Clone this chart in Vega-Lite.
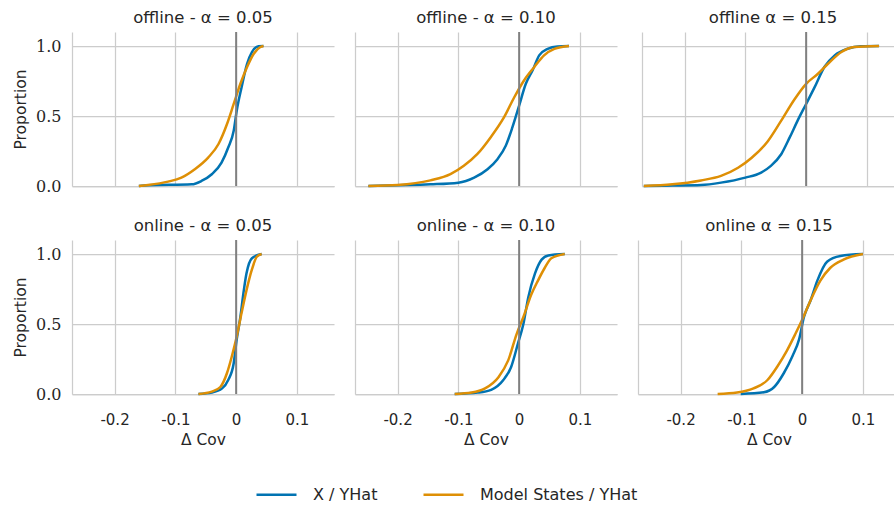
{
  "$schema": "https://vega.github.io/schema/vega-lite/v6.json",
  "padding": {"left": 13, "top": 9, "right": 0, "bottom": 4},
  "background": "white",
  "datasets": {
    "ecdf": [
      {"panel":"off05","series":"X / YHat","dcov":-0.16,"prop":0},
      {"panel":"off05","series":"X / YHat","dcov":-0.145,"prop":0.005},
      {"panel":"off05","series":"X / YHat","dcov":-0.073,"prop":0.012},
      {"panel":"off05","series":"X / YHat","dcov":-0.057,"prop":0.036},
      {"panel":"off05","series":"X / YHat","dcov":-0.04,"prop":0.084},
      {"panel":"off05","series":"X / YHat","dcov":-0.024,"prop":0.167},
      {"panel":"off05","series":"X / YHat","dcov":-0.013,"prop":0.275},
      {"panel":"off05","series":"X / YHat","dcov":-0.004,"prop":0.395},
      {"panel":"off05","series":"X / YHat","dcov":0.001,"prop":0.538},
      {"panel":"off05","series":"X / YHat","dcov":0.009,"prop":0.706},
      {"panel":"off05","series":"X / YHat","dcov":0.018,"prop":0.873},
      {"panel":"off05","series":"X / YHat","dcov":0.026,"prop":0.957},
      {"panel":"off05","series":"X / YHat","dcov":0.037,"prop":0.998},
      {"panel":"off05","series":"X / YHat","dcov":0.045,"prop":1.0},
      {"panel":"off05","series":"Model States / YHat","dcov":-0.16,"prop":0},
      {"panel":"off05","series":"Model States / YHat","dcov":-0.145,"prop":0.007},
      {"panel":"off05","series":"Model States / YHat","dcov":-0.112,"prop":0.031},
      {"panel":"off05","series":"Model States / YHat","dcov":-0.09,"prop":0.06},
      {"panel":"off05","series":"Model States / YHat","dcov":-0.068,"prop":0.12},
      {"panel":"off05","series":"Model States / YHat","dcov":-0.046,"prop":0.203},
      {"panel":"off05","series":"Model States / YHat","dcov":-0.029,"prop":0.3},
      {"panel":"off05","series":"Model States / YHat","dcov":-0.015,"prop":0.443},
      {"panel":"off05","series":"Model States / YHat","dcov":-0.004,"prop":0.586},
      {"panel":"off05","series":"Model States / YHat","dcov":0.007,"prop":0.73},
      {"panel":"off05","series":"Model States / YHat","dcov":0.018,"prop":0.85},
      {"panel":"off05","series":"Model States / YHat","dcov":0.029,"prop":0.945},
      {"panel":"off05","series":"Model States / YHat","dcov":0.04,"prop":0.993},
      {"panel":"off05","series":"Model States / YHat","dcov":0.045,"prop":1.0},

      {"panel":"off10","series":"X / YHat","dcov":-0.248,"prop":0},
      {"panel":"off10","series":"X / YHat","dcov":-0.2,"prop":0.005},
      {"panel":"off10","series":"X / YHat","dcov":-0.146,"prop":0.012},
      {"panel":"off10","series":"X / YHat","dcov":-0.1,"prop":0.024},
      {"panel":"off10","series":"X / YHat","dcov":-0.074,"prop":0.06},
      {"panel":"off10","series":"X / YHat","dcov":-0.052,"prop":0.12},
      {"panel":"off10","series":"X / YHat","dcov":-0.036,"prop":0.19},
      {"panel":"off10","series":"X / YHat","dcov":-0.022,"prop":0.287},
      {"panel":"off10","series":"X / YHat","dcov":-0.011,"prop":0.42},
      {"panel":"off10","series":"X / YHat","dcov":0,"prop":0.574},
      {"panel":"off10","series":"X / YHat","dcov":0.011,"prop":0.73},
      {"panel":"off10","series":"X / YHat","dcov":0.022,"prop":0.825},
      {"panel":"off10","series":"X / YHat","dcov":0.033,"prop":0.933},
      {"panel":"off10","series":"X / YHat","dcov":0.047,"prop":0.98},
      {"panel":"off10","series":"X / YHat","dcov":0.063,"prop":0.997},
      {"panel":"off10","series":"X / YHat","dcov":0.082,"prop":1.0},
      {"panel":"off10","series":"Model States / YHat","dcov":-0.248,"prop":0},
      {"panel":"off10","series":"Model States / YHat","dcov":-0.2,"prop":0.007},
      {"panel":"off10","series":"Model States / YHat","dcov":-0.146,"prop":0.04},
      {"panel":"off10","series":"Model States / YHat","dcov":-0.113,"prop":0.084},
      {"panel":"off10","series":"Model States / YHat","dcov":-0.091,"prop":0.144},
      {"panel":"off10","series":"Model States / YHat","dcov":-0.069,"prop":0.227},
      {"panel":"off10","series":"Model States / YHat","dcov":-0.047,"prop":0.347},
      {"panel":"off10","series":"Model States / YHat","dcov":-0.025,"prop":0.49},
      {"panel":"off10","series":"Model States / YHat","dcov":-0.008,"prop":0.634},
      {"panel":"off10","series":"Model States / YHat","dcov":0.008,"prop":0.754},
      {"panel":"off10","series":"Model States / YHat","dcov":0.025,"prop":0.85},
      {"panel":"off10","series":"Model States / YHat","dcov":0.041,"prop":0.933},
      {"panel":"off10","series":"Model States / YHat","dcov":0.058,"prop":0.98},
      {"panel":"off10","series":"Model States / YHat","dcov":0.082,"prop":1.0},

      {"panel":"off15","series":"X / YHat","dcov":-0.267,"prop":0},
      {"panel":"off15","series":"X / YHat","dcov":-0.22,"prop":0.003},
      {"panel":"off15","series":"X / YHat","dcov":-0.173,"prop":0.007},
      {"panel":"off15","series":"X / YHat","dcov":-0.14,"prop":0.024},
      {"panel":"off15","series":"X / YHat","dcov":-0.1,"prop":0.06},
      {"panel":"off15","series":"X / YHat","dcov":-0.074,"prop":0.096},
      {"panel":"off15","series":"X / YHat","dcov":-0.058,"prop":0.144},
      {"panel":"off15","series":"X / YHat","dcov":-0.041,"prop":0.227},
      {"panel":"off15","series":"X / YHat","dcov":-0.027,"prop":0.347},
      {"panel":"off15","series":"X / YHat","dcov":-0.014,"prop":0.467},
      {"panel":"off15","series":"X / YHat","dcov":0,"prop":0.586},
      {"panel":"off15","series":"X / YHat","dcov":0.014,"prop":0.706},
      {"panel":"off15","series":"X / YHat","dcov":0.03,"prop":0.85},
      {"panel":"off15","series":"X / YHat","dcov":0.047,"prop":0.933},
      {"panel":"off15","series":"X / YHat","dcov":0.068,"prop":0.98},
      {"panel":"off15","series":"X / YHat","dcov":0.09,"prop":0.998},
      {"panel":"off15","series":"X / YHat","dcov":0.12,"prop":1.0},
      {"panel":"off15","series":"Model States / YHat","dcov":-0.267,"prop":0},
      {"panel":"off15","series":"Model States / YHat","dcov":-0.22,"prop":0.012},
      {"panel":"off15","series":"Model States / YHat","dcov":-0.173,"prop":0.04},
      {"panel":"off15","series":"Model States / YHat","dcov":-0.14,"prop":0.072},
      {"panel":"off15","series":"Model States / YHat","dcov":-0.112,"prop":0.13},
      {"panel":"off15","series":"Model States / YHat","dcov":-0.09,"prop":0.2},
      {"panel":"off15","series":"Model States / YHat","dcov":-0.063,"prop":0.32},
      {"panel":"off15","series":"Model States / YHat","dcov":-0.041,"prop":0.467},
      {"panel":"off15","series":"Model States / YHat","dcov":-0.019,"prop":0.62},
      {"panel":"off15","series":"Model States / YHat","dcov":0,"prop":0.73},
      {"panel":"off15","series":"Model States / YHat","dcov":0.019,"prop":0.8},
      {"panel":"off15","series":"Model States / YHat","dcov":0.036,"prop":0.873},
      {"panel":"off15","series":"Model States / YHat","dcov":0.058,"prop":0.957},
      {"panel":"off15","series":"Model States / YHat","dcov":0.079,"prop":0.993},
      {"panel":"off15","series":"Model States / YHat","dcov":0.12,"prop":1.0},

      {"panel":"on05","series":"X / YHat","dcov":-0.062,"prop":0},
      {"panel":"on05","series":"X / YHat","dcov":-0.04,"prop":0.01},
      {"panel":"on05","series":"X / YHat","dcov":-0.023,"prop":0.04},
      {"panel":"on05","series":"X / YHat","dcov":-0.013,"prop":0.1},
      {"panel":"on05","series":"X / YHat","dcov":-0.004,"prop":0.22},
      {"panel":"on05","series":"X / YHat","dcov":0.001,"prop":0.39},
      {"panel":"on05","series":"X / YHat","dcov":0.007,"prop":0.55},
      {"panel":"on05","series":"X / YHat","dcov":0.012,"prop":0.72},
      {"panel":"on05","series":"X / YHat","dcov":0.017,"prop":0.86},
      {"panel":"on05","series":"X / YHat","dcov":0.026,"prop":0.97},
      {"panel":"on05","series":"X / YHat","dcov":0.042,"prop":1.0},
      {"panel":"on05","series":"Model States / YHat","dcov":-0.062,"prop":0},
      {"panel":"on05","series":"Model States / YHat","dcov":-0.04,"prop":0.017},
      {"panel":"on05","series":"Model States / YHat","dcov":-0.026,"prop":0.05},
      {"panel":"on05","series":"Model States / YHat","dcov":-0.015,"prop":0.15},
      {"panel":"on05","series":"Model States / YHat","dcov":-0.007,"prop":0.27},
      {"panel":"on05","series":"Model States / YHat","dcov":0.001,"prop":0.41},
      {"panel":"on05","series":"Model States / YHat","dcov":0.009,"prop":0.58},
      {"panel":"on05","series":"Model States / YHat","dcov":0.017,"prop":0.74},
      {"panel":"on05","series":"Model States / YHat","dcov":0.026,"prop":0.89},
      {"panel":"on05","series":"Model States / YHat","dcov":0.034,"prop":0.98},
      {"panel":"on05","series":"Model States / YHat","dcov":0.042,"prop":1.0},

      {"panel":"on10","series":"X / YHat","dcov":-0.106,"prop":0},
      {"panel":"on10","series":"X / YHat","dcov":-0.068,"prop":0.01},
      {"panel":"on10","series":"X / YHat","dcov":-0.046,"prop":0.03},
      {"panel":"on10","series":"X / YHat","dcov":-0.026,"prop":0.1},
      {"panel":"on10","series":"X / YHat","dcov":-0.013,"prop":0.195},
      {"panel":"on10","series":"X / YHat","dcov":-0.002,"prop":0.36},
      {"panel":"on10","series":"X / YHat","dcov":0.007,"prop":0.5},
      {"panel":"on10","series":"X / YHat","dcov":0.015,"prop":0.69},
      {"panel":"on10","series":"X / YHat","dcov":0.026,"prop":0.86},
      {"panel":"on10","series":"X / YHat","dcov":0.037,"prop":0.96},
      {"panel":"on10","series":"X / YHat","dcov":0.048,"prop":0.99},
      {"panel":"on10","series":"X / YHat","dcov":0.075,"prop":1.0},
      {"panel":"on10","series":"Model States / YHat","dcov":-0.106,"prop":0},
      {"panel":"on10","series":"Model States / YHat","dcov":-0.078,"prop":0.01},
      {"panel":"on10","series":"Model States / YHat","dcov":-0.056,"prop":0.04},
      {"panel":"on10","series":"Model States / YHat","dcov":-0.034,"prop":0.12},
      {"panel":"on10","series":"Model States / YHat","dcov":-0.018,"prop":0.24},
      {"panel":"on10","series":"Model States / YHat","dcov":-0.004,"prop":0.43},
      {"panel":"on10","series":"Model States / YHat","dcov":0.007,"prop":0.55},
      {"panel":"on10","series":"Model States / YHat","dcov":0.02,"prop":0.71},
      {"panel":"on10","series":"Model States / YHat","dcov":0.031,"prop":0.81},
      {"panel":"on10","series":"Model States / YHat","dcov":0.042,"prop":0.9},
      {"panel":"on10","series":"Model States / YHat","dcov":0.053,"prop":0.97},
      {"panel":"on10","series":"Model States / YHat","dcov":0.075,"prop":1.0},

      {"panel":"on15","series":"X / YHat","dcov":-0.101,"prop":0},
      {"panel":"on15","series":"X / YHat","dcov":-0.063,"prop":0.012},
      {"panel":"on15","series":"X / YHat","dcov":-0.046,"prop":0.05},
      {"panel":"on15","series":"X / YHat","dcov":-0.03,"prop":0.15},
      {"panel":"on15","series":"X / YHat","dcov":-0.016,"prop":0.27},
      {"panel":"on15","series":"X / YHat","dcov":-0.005,"prop":0.39},
      {"panel":"on15","series":"X / YHat","dcov":0.003,"prop":0.55},
      {"panel":"on15","series":"X / YHat","dcov":0.014,"prop":0.67},
      {"panel":"on15","series":"X / YHat","dcov":0.025,"prop":0.81},
      {"panel":"on15","series":"X / YHat","dcov":0.041,"prop":0.945},
      {"panel":"on15","series":"X / YHat","dcov":0.063,"prop":0.986},
      {"panel":"on15","series":"X / YHat","dcov":0.1,"prop":1.0},
      {"panel":"on15","series":"Model States / YHat","dcov":-0.139,"prop":0},
      {"panel":"on15","series":"Model States / YHat","dcov":-0.107,"prop":0.01},
      {"panel":"on15","series":"Model States / YHat","dcov":-0.08,"prop":0.04},
      {"panel":"on15","series":"Model States / YHat","dcov":-0.057,"prop":0.1},
      {"panel":"on15","series":"Model States / YHat","dcov":-0.041,"prop":0.195},
      {"panel":"on15","series":"Model States / YHat","dcov":-0.025,"prop":0.31},
      {"panel":"on15","series":"Model States / YHat","dcov":-0.011,"prop":0.43},
      {"panel":"on15","series":"Model States / YHat","dcov":0,"prop":0.53},
      {"panel":"on15","series":"Model States / YHat","dcov":0.014,"prop":0.67},
      {"panel":"on15","series":"Model States / YHat","dcov":0.03,"prop":0.81},
      {"panel":"on15","series":"Model States / YHat","dcov":0.046,"prop":0.9},
      {"panel":"on15","series":"Model States / YHat","dcov":0.068,"prop":0.96},
      {"panel":"on15","series":"Model States / YHat","dcov":0.1,"prop":1.0}
    ]
  },
  "spacing": 23,
  "vconcat": [
    {
      "spacing": 21,
      "hconcat": [
        {
          "width": 262, "height": 154,
          "title": "offline - α = 0.05",
          "layer": [
            {"data": {"name": "ecdf"}, "transform": [{"filter": "datum.panel == 'off05'"}],
             "mark": {"type": "line", "strokeWidth": 2.5, "interpolate": "monotone"},
             "encoding": {
               "x": {"field": "dcov", "type": "quantitative", "scale": {"domain": [-0.27, 0.161], "nice": false, "zero": false}, "axis": {"values": [-0.2, -0.1, 0, 0.1], "labels": false, "title": null}},
               "y": {"field": "prop", "type": "quantitative", "scale": {"domain": [0, 1.1], "nice": false}, "axis": {"values": [0, 0.5, 1], "format": ".1f", "title": "Proportion"}},
               "color": {"field": "series", "type": "nominal", "scale": {"domain": ["X / YHat", "Model States / YHat"], "range": ["#0173b2", "#de8f05"]}, "legend": {"title": null}}
             }},
            {"data": {"values": [{}]}, "mark": {"type": "rule", "color": "#808080", "strokeWidth": 2}, "encoding": {"x": {"datum": 0}}}
          ]
        },
        {
          "width": 262, "height": 154,
          "title": "offline - α = 0.10",
          "layer": [
            {"data": {"name": "ecdf"}, "transform": [{"filter": "datum.panel == 'off10'"}],
             "mark": {"type": "line", "strokeWidth": 2.5, "interpolate": "monotone"},
             "encoding": {
               "x": {"field": "dcov", "type": "quantitative", "scale": {"domain": [-0.27, 0.161], "nice": false, "zero": false}, "axis": {"values": [-0.2, -0.1, 0, 0.1], "labels": false, "title": null}},
               "y": {"field": "prop", "type": "quantitative", "scale": {"domain": [0, 1.1], "nice": false}, "axis": {"values": [0, 0.5, 1], "labels": false, "title": null}},
               "color": {"field": "series", "type": "nominal", "scale": {"domain": ["X / YHat", "Model States / YHat"], "range": ["#0173b2", "#de8f05"]}, "legend": {"title": null}}
             }},
            {"data": {"values": [{}]}, "mark": {"type": "rule", "color": "#808080", "strokeWidth": 2}, "encoding": {"x": {"datum": 0}}}
          ]
        },
        {
          "width": 262, "height": 154,
          "title": "offline α = 0.15",
          "layer": [
            {"data": {"name": "ecdf"}, "transform": [{"filter": "datum.panel == 'off15'"}],
             "mark": {"type": "line", "strokeWidth": 2.5, "interpolate": "monotone"},
             "encoding": {
               "x": {"field": "dcov", "type": "quantitative", "scale": {"domain": [-0.27, 0.161], "nice": false, "zero": false}, "axis": {"values": [-0.2, -0.1, 0, 0.1], "labels": false, "title": null}},
               "y": {"field": "prop", "type": "quantitative", "scale": {"domain": [0, 1.1], "nice": false}, "axis": {"values": [0, 0.5, 1], "labels": false, "title": null}},
               "color": {"field": "series", "type": "nominal", "scale": {"domain": ["X / YHat", "Model States / YHat"], "range": ["#0173b2", "#de8f05"]}, "legend": {"title": null}}
             }},
            {"data": {"values": [{}]}, "mark": {"type": "rule", "color": "#808080", "strokeWidth": 2}, "encoding": {"x": {"datum": 0}}}
          ]
        }
      ]
    },
    {
      "spacing": 21,
      "hconcat": [
        {
          "width": 262, "height": 154,
          "title": "online - α = 0.05",
          "layer": [
            {"data": {"name": "ecdf"}, "transform": [{"filter": "datum.panel == 'on05'"}],
             "mark": {"type": "line", "strokeWidth": 2.5, "interpolate": "monotone"},
             "encoding": {
               "x": {"field": "dcov", "type": "quantitative", "scale": {"domain": [-0.27, 0.161], "nice": false, "zero": false}, "axis": {"values": [-0.2, -0.1, 0, 0.1], "title": "Δ Cov", "labelExpr": "datum.value == 0 ? '0' : (datum.value < 0 ? '-' + format(-datum.value, '.1f') : format(datum.value, '.1f'))"}},
               "y": {"field": "prop", "type": "quantitative", "scale": {"domain": [0, 1.1], "nice": false}, "axis": {"values": [0, 0.5, 1], "format": ".1f", "title": "Proportion"}},
               "color": {"field": "series", "type": "nominal", "scale": {"domain": ["X / YHat", "Model States / YHat"], "range": ["#0173b2", "#de8f05"]}, "legend": {"title": null}}
             }},
            {"data": {"values": [{}]}, "mark": {"type": "rule", "color": "#808080", "strokeWidth": 2}, "encoding": {"x": {"datum": 0}}}
          ]
        },
        {
          "width": 262, "height": 154,
          "title": "online - α = 0.10",
          "layer": [
            {"data": {"name": "ecdf"}, "transform": [{"filter": "datum.panel == 'on10'"}],
             "mark": {"type": "line", "strokeWidth": 2.5, "interpolate": "monotone"},
             "encoding": {
               "x": {"field": "dcov", "type": "quantitative", "scale": {"domain": [-0.27, 0.161], "nice": false, "zero": false}, "axis": {"values": [-0.2, -0.1, 0, 0.1], "title": "Δ Cov", "labelExpr": "datum.value == 0 ? '0' : (datum.value < 0 ? '-' + format(-datum.value, '.1f') : format(datum.value, '.1f'))"}},
               "y": {"field": "prop", "type": "quantitative", "scale": {"domain": [0, 1.1], "nice": false}, "axis": {"values": [0, 0.5, 1], "labels": false, "title": null}},
               "color": {"field": "series", "type": "nominal", "scale": {"domain": ["X / YHat", "Model States / YHat"], "range": ["#0173b2", "#de8f05"]}, "legend": {"title": null}}
             }},
            {"data": {"values": [{}]}, "mark": {"type": "rule", "color": "#808080", "strokeWidth": 2}, "encoding": {"x": {"datum": 0}}}
          ]
        },
        {
          "width": 262, "height": 154,
          "title": "online α = 0.15",
          "layer": [
            {"data": {"name": "ecdf"}, "transform": [{"filter": "datum.panel == 'on15'"}],
             "mark": {"type": "line", "strokeWidth": 2.5, "interpolate": "monotone"},
             "encoding": {
               "x": {"field": "dcov", "type": "quantitative", "scale": {"domain": [-0.27, 0.161], "nice": false, "zero": false}, "axis": {"values": [-0.2, -0.1, 0, 0.1], "title": "Δ Cov", "labelExpr": "datum.value == 0 ? '0' : (datum.value < 0 ? '-' + format(-datum.value, '.1f') : format(datum.value, '.1f'))"}},
               "y": {"field": "prop", "type": "quantitative", "scale": {"domain": [0, 1.1], "nice": false}, "axis": {"values": [0, 0.5, 1], "labels": false, "title": null}},
               "color": {"field": "series", "type": "nominal", "scale": {"domain": ["X / YHat", "Model States / YHat"], "range": ["#0173b2", "#de8f05"]}, "legend": {"title": null}}
             }},
            {"data": {"values": [{}]}, "mark": {"type": "rule", "color": "#808080", "strokeWidth": 2}, "encoding": {"x": {"datum": 0}}}
          ]
        }
      ]
    }
  ],
  "config": {
    "view": {"stroke": null},
    "font": "DejaVu Sans",
    "title": {"font": "DejaVu Sans", "fontSize": 16.5, "fontWeight": "normal", "color": "#262626", "offset": 5, "anchor": "middle"},
    "axis": {
      "labelFont": "DejaVu Sans", "labelFontSize": 15, "labelColor": "#262626",
      "titleFont": "DejaVu Sans", "titleFontSize": 15.5, "titleFontWeight": "normal", "titleColor": "#262626",
      "gridColor": "#cccccc", "gridWidth": 1.25, "domainColor": "#cccccc", "domainWidth": 1.25,
      "ticks": false, "labelPadding": 10, "titlePadding": 6
    },
    "axisY": {"labelFont": "DejaVu Serif", "labelFontSize": 16, "labelPadding": 11, "titlePadding": 7},
    "axisX": {"labelPadding": 18, "titlePadding": 5},
    "legend": {
      "orient": "none", "legendX": 183, "legendY": 441, "direction": "horizontal",
      "symbolType": "stroke", "symbolSize": 1600, "symbolStrokeWidth": 2.5,
      "labelFont": "DejaVu Sans", "labelFontSize": 16, "labelColor": "#262626",
      "labelOffset": 15, "columnPadding": 40, "padding": 0
    }
  }
}
